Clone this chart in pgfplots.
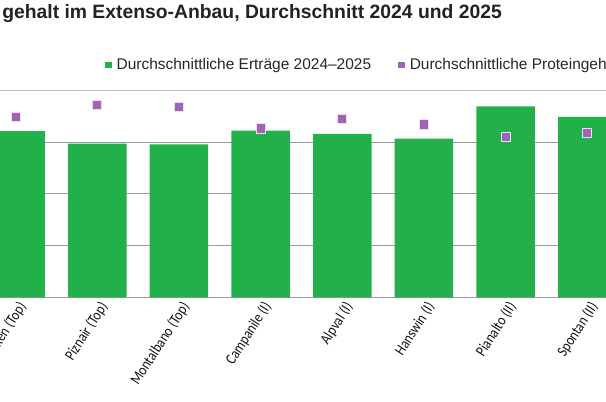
\documentclass[border=0pt]{standalone}
\usepackage{pgfplots}
\pgfplotsset{compat=1.18}
\usepackage{fontspec}
\setmainfont{Liberation Sans}
\newfontfamily\lblfont[FakeStretch=0.85]{Carlito}

\definecolor{barg}{HTML}{22B04A}
\definecolor{protein}{HTML}{A064B4}
\definecolor{gridc}{HTML}{9C9C9C}
\definecolor{topc}{HTML}{BEBEBE}
\definecolor{titlec}{HTML}{222222}

% small filled square as legend image
\pgfplotsset{sqlegend/.style={legend image code/.code={%
    \fill[##1] (0pt,-2.5pt) rectangle (5pt,2.5pt);}}}

\begin{document}
\begin{tikzpicture}
% visible part of the chart: 606x402 px, 1px = 0.75pt
\useasboundingbox (0,0) rectangle (454.5pt,301.5pt);
\clip (0,0) rectangle (454.5pt,301.5pt);

\node[anchor=base west, inner sep=0pt, text=titlec,
      font=\fontsize{14.5}{17}\selectfont\bfseries]
  at (1.5pt,287.6pt) {gehalt im Extenso-Anbau, Durchschnitt 2024 und 2025};

% yields (dt/ha)
\begin{axis}[
    at={(-34.24pt,78.525pt)}, anchor=south west,
    scale only axis, width=520.65pt, height=155.25pt,
    xmin=-0.75, xmax=7.75, ymin=0, ymax=80,
    ybar, bar width=43.9pt,
    axis line style={draw=none},
    major tick length=0pt,
    ytick={0,20,40,60}, yticklabels={},
    extra y ticks={80}, extra y tick labels={},
    extra y tick style={grid style={topc, line width=1.1pt}},
    ymajorgrids, grid style={gridc, line width=0.7pt},
    xtick={0,...,7},
    xticklabels={Axen (Top), Piznair (Top), Montalbano (Top), Campanile (I),
                 Alpval (I), Hanswin (I), Pianalto (II), Spontan (II)},
    xticklabel style={font=\lblfont\fontsize{11.5}{13}\selectfont, text=black!92,
                      xshift=1pt, yshift=-2pt,
                      rotate=57, anchor=north east, inner sep=0pt},
    legend columns=2,
    legend cell align=left,
    legend style={at={(axis description cs:0.2175,1.1222)}, anchor=west,
                  draw=none, fill=none, inner sep=0pt, outer sep=0pt,
                  font=\fontsize{11.6}{13}\selectfont,
                  text=black!85,
                  nodes={inner sep=0pt, text depth=0.2em},
                  /tikz/every odd column/.append style={column sep=3.5pt},
                  /tikz/every even column/.append style={column sep=20.5pt}},
]
\addplot[fill=barg, draw=none, bar shift=0pt, sqlegend]
  coordinates {(0,64.2) (1,59.4) (2,59.1) (3,64.4) (4,63.2) (5,61.3) (6,73.8) (7,69.7)};
\addlegendentry{Durchschnittliche Erträge 2024–2025}
\addlegendimage{fill=protein, draw=none, sqlegend}
\addlegendentry{Durchschnittliche Proteingehalte 2024–2025}
\end{axis}

% protein content (%)
\begin{axis}[
    at={(-34.24pt,78.525pt)}, anchor=south west,
    scale only axis, width=520.65pt, height=155.25pt,
    xmin=-0.75, xmax=7.75, ymin=0, ymax=16,
    hide axis,
]
\addplot[only marks, mark=square*, mark size=3.4pt,
         mark options={fill=protein, draw=white!80!protein, line width=0.5pt}]
  coordinates {(0,13.96) (1,14.84) (2,14.73) (3,13.06) (4,13.76) (5,13.37) (6,12.37) (7,12.68)};
\end{axis}
\end{tikzpicture}
\end{document}
